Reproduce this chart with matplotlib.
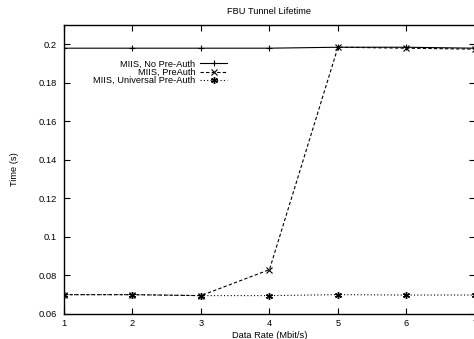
import matplotlib
matplotlib.use("Agg")
import matplotlib.pyplot as plt

x = [1, 2, 3, 4, 5, 6, 7]
no_preauth = [0.198, 0.198, 0.198, 0.198, 0.1985, 0.1985, 0.198]
preauth = [0.070, 0.070, 0.0695, 0.083, 0.1985, 0.198, 0.1975]
universal = [0.070, 0.070, 0.0695, 0.0695, 0.070, 0.0698, 0.0698]
labels = ["MIIS, No Pre-Auth", "MIIS, PreAuth", "MIIS, Universal Pre-Auth"]
yticks = [0.06, 0.08, 0.1, 0.12, 0.14, 0.16, 0.18, 0.2]

plt.rcParams['font.family'] = ['Liberation Sans', 'DejaVu Sans']
fig = plt.figure(figsize=(4.74, 3.39), dpi=100)
ax = fig.add_axes([0.135, 0.074, 0.867, 0.852])

ax.plot(x, no_preauth, color='black', lw=0.8, ls='-', marker='+', ms=5, mew=0.8, label=labels[0])
ax.plot(x, preauth, color='black', lw=0.8, ls=(0, (3, 2)), marker='x', ms=4, mew=0.8, label=labels[1])
ax.plot(x, universal, color='black', lw=0.8, ls=(0, (1, 2)), marker=(6, 2, 0), ms=5, mew=1.0, label=labels[2])

ax.set_xlim(1, 7)
ax.set_ylim(0.06, 0.21)
ax.set_xticks(x)
ax.set_yticks(yticks)
ax.set_yticklabels(["0.06", "0.08", "0.1", "0.12", "0.14", "0.16", "0.18", "0.2"])
ax.tick_params(direction='in', top=True, right=True, labelsize=6.7, length=4, width=0.8)
ax.tick_params(axis='x', pad=4)
ax.tick_params(axis='y', pad=5)
for s in ax.spines.values():
    s.set_linewidth(1.0)

ax.set_xlabel("Data Rate (Mbit/s)", fontsize=6.7, labelpad=1.5)
ax.set_ylabel("Time (s)", fontsize=6.7, labelpad=14)
ax.set_title("FBU Tunnel Lifetime", fontsize=6.7, pad=8)

leg = ax.legend(loc='upper right', bbox_to_anchor=(0.397, 0.88), frameon=False, fontsize=6.7,
                markerfirst=False, handlelength=2.9, handletextpad=0.5, labelspacing=-0.1,
                borderaxespad=0, borderpad=0)
leg._legend_box._children[-1]._children[0].align = "right"

fig.savefig("out.png", dpi=100)
